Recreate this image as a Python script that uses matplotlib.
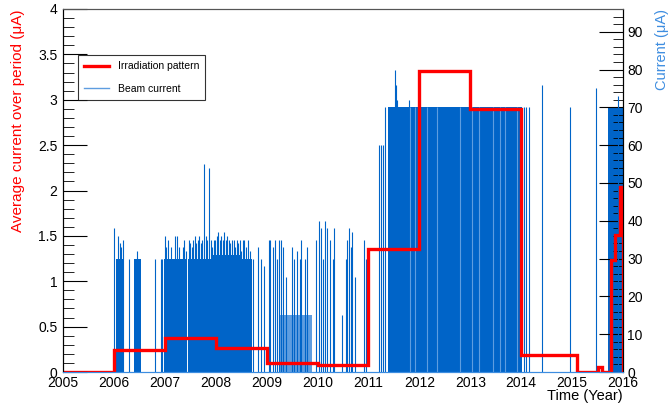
import numpy as np
import matplotlib
matplotlib.use('Agg')
import matplotlib.pyplot as plt
from matplotlib.lines import Line2D

plt.rcParams['font.family'] = ['Liberation Sans', 'DejaVu Sans']

# Irradiation pattern (average current over period, uA) - step edges / values
step_edges = [2005, 2006, 2007, 2008, 2009, 2010, 2011, 2012, 2013, 2014,
              2015.1, 2015.5, 2015.58, 2015.77, 2015.85, 2015.94, 2016]
step_values = [0, 0.24, 0.37, 0.26, 0.10, 0.08, 1.36, 3.32, 2.90, 0.19,
               0.0, 0.05, 0.0, 1.23, 1.51, 2.04]

# Beam current: densely filled periods (start, end, level in uA)
block_start = [2006.05, 2006.40, 2006.98, 2007.15, 2007.46, 2007.92, 2008.52, 2011.38, 2015.70]
block_end = [2006.20, 2006.53, 2007.12, 2007.42, 2007.90, 2008.50, 2008.72, 2014.02, 2016.00]
block_level = [30, 30, 30, 30, 30, 31, 30, 70, 70]

# low-current running period in 2009
low_start = [2009.26]
low_end = [2009.90]
low_level = [15]

# Beam current: individual spikes (time, uA)
spike_time = [2006.00, 2006.06, 2006.08, 2006.11, 2006.14, 2006.17, 2006.30, 2006.42,
              2006.45, 2006.50, 2006.80, 2006.92, 2006.95, 2007.00, 2007.03, 2007.06,
              2007.09, 2007.12, 2007.20, 2007.23, 2007.27, 2007.30, 2007.35, 2007.38,
              2007.42, 2007.47, 2007.50, 2007.53, 2007.56, 2007.59, 2007.62, 2007.65,
              2007.68, 2007.71, 2007.74, 2007.77, 2007.80, 2007.83, 2007.87, 2007.90,
              2007.93, 2007.96, 2007.99, 2008.02, 2008.05, 2008.08, 2008.11, 2008.14,
              2008.17, 2008.20, 2008.23, 2008.26, 2008.29, 2008.32, 2008.35, 2008.38,
              2008.41, 2008.44, 2008.47, 2008.50, 2008.53, 2008.56, 2008.60, 2008.64,
              2008.68, 2008.73, 2008.83, 2008.88, 2008.95, 2009.04, 2009.06, 2009.12,
              2009.16, 2009.20, 2009.25, 2009.29, 2009.33, 2009.39, 2009.50, 2009.53,
              2009.59, 2009.65, 2009.68, 2009.75, 2009.79, 2009.97, 2010.03, 2010.06,
              2010.10, 2010.15, 2010.18, 2010.24, 2010.30, 2010.33, 2010.48, 2010.55,
              2010.58, 2010.61, 2010.66, 2010.68, 2010.73, 2010.92, 2010.95, 2011.20,
              2011.25, 2011.29, 2011.33, 2011.52, 2011.55, 2011.57, 2011.65, 2011.72,
              2011.80, 2014.05, 2014.10, 2014.15, 2014.41, 2014.96, 2015.47, 2015.90]
spike_value = [38, 30, 36, 34, 33, 35, 30, 30,
               32, 30, 30, 30, 30, 36, 33, 35,
               30, 33, 36, 36, 33, 30, 33, 35,
               32, 35, 34, 33, 35, 36, 34, 35,
               36, 34, 35, 55, 36, 35, 54, 35,
               33, 35, 35, 36, 37, 35, 36, 35,
               37, 35, 36, 35, 34, 35, 35, 33,
               35, 34, 35, 32, 35, 35, 33, 35,
               32, 30, 33, 30, 28, 35, 35, 33,
               35, 30, 35, 35, 33, 25, 33, 30,
               32, 30, 35, 30, 33, 35, 40, 38,
               30, 40, 38, 35, 30, 38, 15, 30,
               35, 38, 33, 37, 25, 35, 30, 60,
               60, 60, 70, 80, 76, 72, 70, 65,
               72, 70, 70, 70, 76, 70, 75, 73]

# lighter stripes inside the 70 uA period
stripe_time = [2011.82, 2011.92, 2012.15, 2012.35, 2012.80, 2013.03, 2013.18, 2013.45, 2013.58, 2013.69, 2013.92]

red = '#ff0000'
blue = '#0064c8'
light_blue = '#5e9de0'

fig = plt.figure(figsize=(6.68, 4.07), dpi=100)
ax = fig.add_axes([63 / 668, 1 - 372 / 407, 560 / 668, 363 / 407])
ax2 = ax.twinx()

# blue beam current on the right axis
ax2.bar(block_start, block_level, width=np.array(block_end) - np.array(block_start),
        align='edge', color=blue, linewidth=0)
ax2.bar(low_start, low_level, width=np.array(low_end) - np.array(low_start),
        align='edge', color=light_blue, linewidth=0)
ax2.vlines(spike_time, 0, spike_value, color=blue, lw=0.8)
ax2.vlines(stripe_time, 0, 70, color=light_blue, lw=0.8)
ax2.set_ylim(0, 96)

# red irradiation pattern on the left axis
ax.set_zorder(ax2.get_zorder() + 1)
ax.patch.set_visible(False)
ax.stairs(step_values, step_edges, color=red, lw=2.4, baseline=0)
ax.set_xlim(2005, 2016)
ax.set_ylim(0, 4)

ax.set_xticks(range(2005, 2017))
ax.tick_params(axis='x', length=0, labelsize=10, pad=3)
ax.set_yticks(np.arange(0, 4.01, 0.5))
ax.set_yticklabels(['0', '0.5', '1', '1.5', '2', '2.5', '3', '3.5', '4'])
ax.set_yticks(np.arange(0, 4.01, 0.1), minor=True)
ax.tick_params(axis='y', which='major', direction='in', length=17, labelsize=10, pad=4)
ax.tick_params(axis='y', which='minor', direction='in', length=8)

ax2.set_yticks(range(0, 91, 10))
ax2.set_yticks(range(0, 97, 2), minor=True)
ax2.tick_params(axis='y', which='major', direction='in', length=17, labelsize=10, pad=3)
ax2.tick_params(axis='y', which='minor', direction='in', length=7)

for a in (ax, ax2):
    a.spines['bottom'].set_color('#3d8de0')
    a.spines['top'].set_color('#555555')

ax.set_ylabel('Average current over period (μA)', color=red, fontsize=11, loc='top')
ax.yaxis.set_label_coords(-0.068, 1.0)
ax2.set_ylabel('Current (μA)', color='#3d8de0', fontsize=10.5, loc='top')
ax2.yaxis.set_label_coords(1.057, 1.0)
ax.set_xlabel('Time (Year)', fontsize=10.5, loc='right')
ax.xaxis.set_label_coords(1.0, -0.046)

handles = [Line2D([], [], color=red, lw=2.4), Line2D([], [], color=light_blue, lw=1)]
leg = ax.legend(handles, ['Irradiation pattern', 'Beam current'],
                loc='upper left', bbox_to_anchor=(0.027, 0.873), borderaxespad=0,
                fontsize=7.5, frameon=True, fancybox=False, edgecolor='black',
                handlelength=2.4, borderpad=0.6, labelspacing=1.2)
leg.get_frame().set_linewidth(0.8)

fig.savefig('out.png', dpi=100)
